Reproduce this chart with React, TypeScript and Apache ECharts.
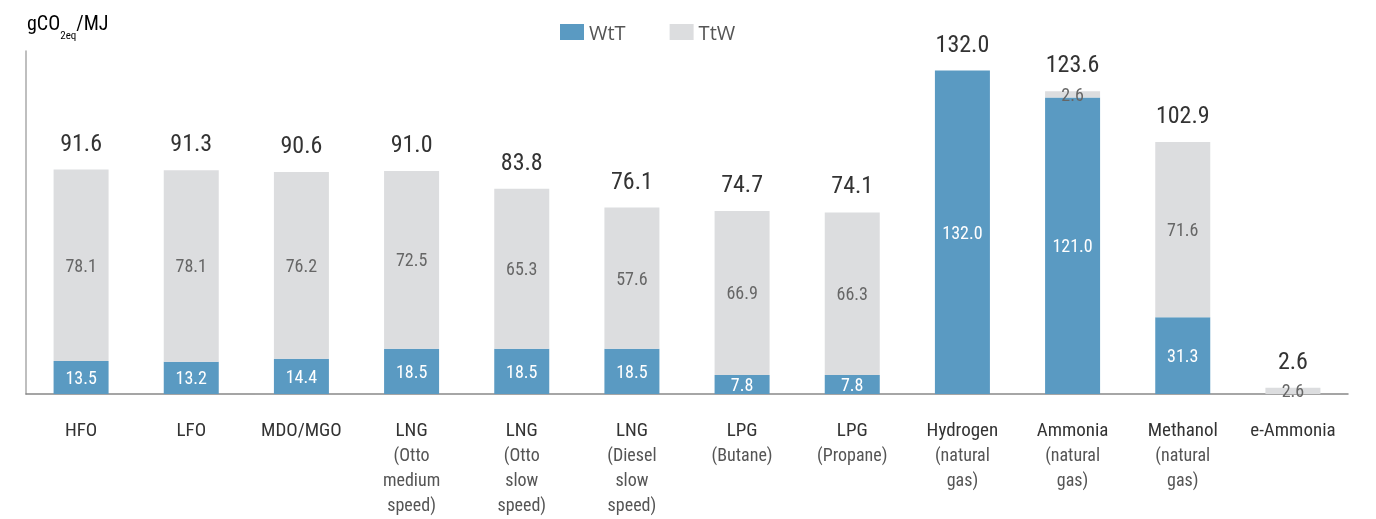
import React, { useEffect, useRef } from "react";
import * as echarts from "echarts";

const categories = [
  "HFO",
  "LFO",
  "MDO/MGO",
  "LNG\n(Otto\nmedium\nspeed)",
  "LNG\n(Otto\nslow\nspeed)",
  "LNG\n(Diesel\nslow\nspeed)",
  "LPG\n(Butane)",
  "LPG\n(Propane)",
  "Hydrogen\n(natural\ngas)",
  "Ammonia\n(natural\ngas)",
  "Methanol\n(natural\ngas)",
  "e-Ammonia",
];
const wtt = [13.5, 13.2, 14.4, 18.5, 18.5, 18.5, 7.8, 7.8, 132.0, 121.0, 31.3, 0];
const ttw = [78.1, 78.1, 76.2, 72.5, 65.3, 57.6, 66.9, 66.3, 0, 2.6, 71.6, 2.6];
const totals = [91.6, 91.3, 90.6, 91.0, 83.8, 76.1, 74.7, 74.1, 132.0, 123.6, 102.9, 2.6];

const FONT = "'Liberation Sans Narrow', 'Roboto Condensed', 'DejaVu Sans Condensed', 'Arial Narrow', sans-serif";
const BLUE = "#5A9AC2";
const GREY = "#DCDDDF";

export default function App() {
  const ref = useRef<HTMLDivElement>(null);
  useEffect(() => {
    if (!ref.current) return;
    const chart = echarts.init(ref.current, null, { renderer: "svg" });
    const fmt = (p: any) => (p.value ? Number(p.value).toFixed(1) : "");
    chart.setOption({
      animation: false,
      legend: {
        data: ["WtT", "TtW"],
        left: 555,
        top: 17,
        itemWidth: 24,
        itemHeight: 16,
        itemGap: 44,
        icon: "rect",
        textStyle: { fontFamily: "'Open Sans', sans-serif", fontSize: 20, color: "#555" },
      },
      graphic: [
        {
          type: "text",
          left: 27,
          top: 13,
          style: {
            text: "{m|gCO}{s|2eq}{m|/MJ}",
            rich: {
              m: { fontFamily: FONT, fontSize: 20, color: "#555", lineHeight: 24, verticalAlign: "top" },
              s: { fontFamily: FONT, fontSize: 11, color: "#555", lineHeight: 44, verticalAlign: "middle" },
            },
          },
        },
      ],
      grid: { left: 26, right: 28, top: 51, bottom: 125 },
      xAxis: {
        type: "category",
        data: categories,
        axisLine: { lineStyle: { color: "#888", width: 1.5 } },
        axisTick: { show: false },
        axisLabel: {
          interval: 0,
          margin: 22,
          formatter: (v: string) =>
            v
              .split("\n")
              .map((l, i) => (i === 0 ? `{a|${l}}` : `{b|${l}}`))
              .join("\n"),
          rich: {
            a: { fontFamily: FONT, fontSize: 19, color: "#333", lineHeight: 26 },
            b: { fontFamily: FONT, fontSize: 18, color: "#555", lineHeight: 25 },
          },
        },
      },
      yAxis: {
        type: "value",
        min: 0,
        max: 140,
        axisLine: { show: true, lineStyle: { color: "#aaa", width: 1.5 } },
        axisTick: { show: false },
        axisLabel: { show: false },
        splitLine: { show: false },
      },
      series: [
        {
          name: "WtT",
          type: "bar",
          stack: "t",
          barWidth: 55,
          data: wtt,
          itemStyle: { color: BLUE },
          label: { show: true, position: "inside", formatter: fmt, color: "#fff", fontFamily: FONT, fontSize: 18 },
        },
        {
          name: "TtW",
          type: "bar",
          stack: "t",
          barWidth: 55,
          data: ttw,
          itemStyle: { color: GREY },
          label: { show: true, position: "inside", formatter: fmt, color: "#666", fontFamily: FONT, fontSize: 18 },
        },
        {
          name: "Total",
          type: "bar",
          stack: "t",
          barWidth: 55,
          data: totals.map(() => 0),
          itemStyle: { color: "transparent" },
          label: {
            show: true,
            position: "top",
            distance: 15,
            formatter: (p: any) => totals[p.dataIndex].toFixed(1),
            color: "#333",
            fontFamily: FONT,
            fontSize: 24,
          },
        },
      ],
    });
    return () => chart.dispose();
  }, []);
  return <div ref={ref} style={{ position: "fixed", left: 0, top: 0, width: 1376, height: 519 }} />;
}
